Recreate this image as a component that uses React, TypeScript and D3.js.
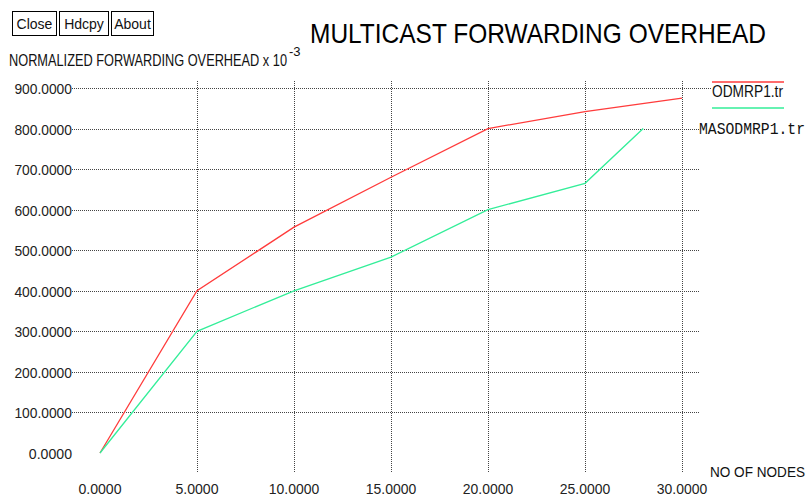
import React from 'react';
import * as d3 from 'd3';

const nodes = [0, 5, 10, 15, 20, 25, 30];
const odmrp = [0, 400, 557, 680, 800, 842, 875];
const masNodes = [0, 5, 10, 15, 20, 25, 28];
const masodmrp = [0, 300, 400, 483, 600, 665, 800];
const yTicks = [0, 100, 200, 300, 400, 500, 600, 700, 800, 900];
const xTicks = [0, 5, 10, 15, 20, 25, 30];
const buttons = ['Close', 'Hdcpy', 'About'];

const W = 808;
const H = 500;

const App: React.FC = () => {
  const x = d3.scaleLinear().domain([0, 30]).range([100, 682]);
  const y = d3.scaleLinear().domain([0, 900]).range([453, 88]);
  const fmt = d3.format('.4f');

  const line = d3.line<[number, number]>()
    .x(d => x(d[0]))
    .y(d => y(d[1]));

  const redPts: [number, number][] = nodes.map((n, i) => [n, odmrp[i]]);
  const greenPts: [number, number][] = masNodes.map((n, i) => [n, masodmrp[i]]);

  const font = '"Liberation Sans", Arial, sans-serif';
  const btnX = [12, 59, 111];
  const btnW = [44, 49, 42];
  // narrow-ish tick labels like the original
  const tickLen = (s: string) => s.length * 7.2;

  return (
    <svg width={W} height={H} style={{ position: 'absolute', left: 0, top: 0, background: '#fff' }}
      fontFamily={font}>
      {buttons.map((b, i) => (
        <g key={b}>
          <rect x={btnX[i] + 0.5} y={11.5} width={btnW[i]} height={24} fill="#fff" stroke="#000" />
          <text x={btnX[i] + btnW[i] / 2 + 0.5} y={29} textAnchor="middle" fontSize={14} fill="#111">{b}</text>
        </g>
      ))}

      <text x={310} y={43} fontSize={28} textLength={456} lengthAdjust="spacingAndGlyphs" fill="#000">
        MULTICAST FORWARDING OVERHEAD
      </text>
      <text x={9} y={66} fontSize={16} textLength={278} lengthAdjust="spacingAndGlyphs" fill="#111">
        NORMALIZED FORWARDING OVERHEAD x 10
      </text>
      <text x={289} y={56} fontSize={13} fill="#111">-3</text>

      {/* horizontal grid */}
      {yTicks.filter(t => t > 0).map(t => (
        <line key={'h' + t} x1={72} x2={t === 900 ? 712 : 700} y1={Math.round(y(t)) + 0.5} y2={Math.round(y(t)) + 0.5}
          stroke="#444" strokeDasharray="1,1" />
      ))}
      {/* vertical grid */}
      {xTicks.filter(t => t > 0).map(t => (
        <line key={'v' + t} x1={Math.round(x(t)) + 0.5} x2={Math.round(x(t)) + 0.5} y1={81} y2={472}
          stroke="#444" strokeDasharray="1,1" />
      ))}

      {yTicks.map(t => (
        <text key={'yl' + t} x={72} y={y(t) + 6} textAnchor="end" fontSize={15} fill="#222"
          textLength={tickLen(fmt(t))} lengthAdjust="spacingAndGlyphs">{fmt(t)}</text>
      ))}
      {xTicks.map(t => (
        <text key={'xl' + t} x={x(t) - tickLen(fmt(t)) / 2} y={494} fontSize={15} fill="#222"
          textLength={tickLen(fmt(t))} lengthAdjust="spacingAndGlyphs">{fmt(t)}</text>
      ))}
      <text x={710} y={477} fontSize={15} textLength={95} lengthAdjust="spacingAndGlyphs" fill="#111">NO OF NODES</text>

      <path d={line(redPts) || ''} fill="none" stroke="#ff3b3b" strokeWidth={1.3} />
      <path d={line(greenPts) || ''} fill="none" stroke="#33ee99" strokeWidth={1.3} />

      {/* legend */}
      <line x1={712} x2={784} y1={82} y2={82} stroke="#ff3b3b" strokeWidth={1.5} />
      <text x={712} y={97} fontSize={16} textLength={71} lengthAdjust="spacingAndGlyphs" fill="#111">ODMRP1.tr</text>
      <line x1={712} x2={784} y1={108} y2={108} stroke="#33ee99" strokeWidth={1.5} />
      <text x={699} y={134} fontSize={16} textLength={106} lengthAdjust="spacingAndGlyphs"
        fontFamily='"Liberation Mono", "DejaVu Sans Mono", monospace' fill="#111">MASODMRP1.tr</text>
    </svg>
  );
};

export default App;
